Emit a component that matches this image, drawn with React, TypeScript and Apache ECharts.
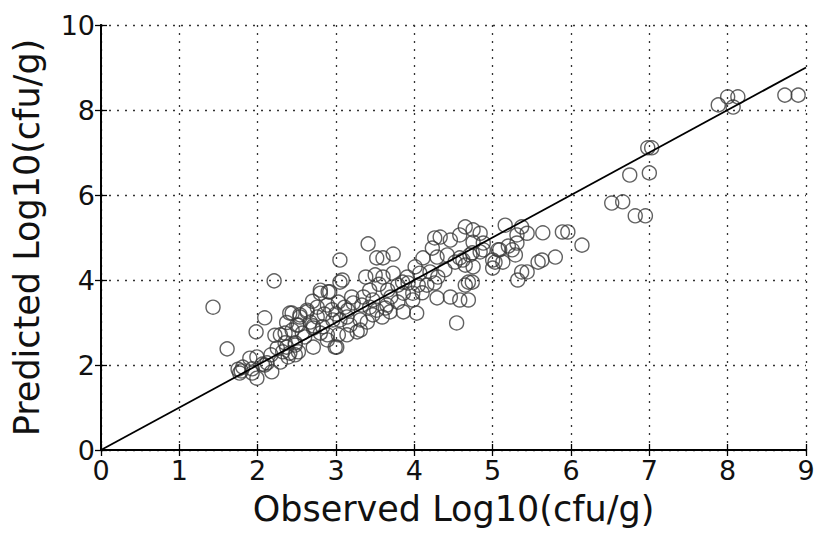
import React, { useEffect, useRef } from "react";
import * as echarts from "echarts";

const xTicks = [0, 1, 2, 3, 4, 5, 6, 7, 8, 9];
const yTicks = [0, 2, 4, 6, 8, 10];
const xTitle = "Observed Log10(cfu/g)";
const yTitle = "Predicted Log10(cfu/g)";
const identityLine: [number, number][] = [[0, 0], [9, 9]];

const lowPoints: [number, number][] = [
  [1.43, 3.36], [1.61, 2.38], [1.75, 1.9], [1.77, 1.81], [1.79, 1.86], [1.81, 1.95], [1.9, 2.16],
  [1.93, 1.91], [1.93, 1.81], [1.98, 2.78], [1.99, 2.19], [1.99, 1.69], [2.06, 2.02], [2.09, 3.11],
  [2.09, 2.0], [2.12, 2.05], [2.17, 2.24], [2.18, 1.84], [2.21, 3.98], [2.22, 2.7], [2.25, 2.4],
  [2.29, 2.07], [2.29, 2.71], [2.32, 2.31], [2.35, 2.75], [2.35, 2.52], [2.37, 3.0], [2.37, 2.42],
  [2.39, 2.19], [2.41, 2.28], [2.41, 3.22], [2.44, 3.22], [2.44, 2.82], [2.48, 2.47], [2.48, 2.24],
  [2.48, 2.52], [2.5, 2.94], [2.52, 2.94], [2.52, 2.31], [2.54, 3.18], [2.54, 3.13], [2.57, 2.75],
];

const midPoints: [number, number][] = [
  [2.6, 2.66], [2.63, 3.25], [2.63, 3.29], [2.67, 3.01], [2.71, 2.87], [2.71, 2.42], [2.71, 2.92],
  [2.76, 3.36], [2.76, 3.13], [2.8, 3.69], [2.8, 2.75], [2.8, 3.76], [2.83, 2.9], [2.89, 3.41],
  [2.89, 2.59], [2.89, 2.71], [2.9, 3.72], [2.92, 3.72], [2.96, 3.06], [2.99, 2.42], [3.01, 2.42],
  [3.03, 3.48], [3.03, 2.71], [3.05, 4.47], [3.05, 3.95], [3.05, 3.06], [3.08, 4.0], [3.11, 3.36],
  [3.14, 3.13], [3.14, 2.71], [3.15, 3.29], [3.18, 2.94], [3.22, 3.46], [3.27, 2.78], [3.31, 3.06],
  [3.31, 2.82], [3.33, 3.41], [3.35, 3.6], [3.4, 3.01], [3.41, 4.85], [3.43, 3.76], [3.43, 3.36],
  [3.47, 3.18], [3.47, 3.53], [3.5, 4.12], [3.52, 4.52], [3.52, 3.29], [3.38, 4.07], [2.95, 3.3],
  [3.2, 3.6], [2.7, 3.5], [2.85, 3.2], [3.0, 3.2],
];

const upperPoints: [number, number][] = [
  [3.59, 3.13], [3.6, 4.52], [3.6, 4.07], [3.63, 3.34], [3.65, 3.41], [3.66, 3.76], [3.69, 3.25],
  [3.73, 4.61], [3.73, 4.16], [3.79, 3.88], [3.79, 3.48], [3.86, 3.69], [3.86, 3.25], [3.91, 4.07],
  [3.92, 3.93], [3.98, 3.69], [3.98, 3.53], [4.01, 4.31], [4.03, 3.22], [4.05, 3.88], [4.07, 4.16],
  [4.11, 4.52], [4.16, 3.88], [4.2, 4.19], [4.23, 4.75], [4.26, 4.99], [4.26, 3.93], [4.29, 4.54],
  [4.29, 3.58], [4.3, 4.07], [4.33, 5.01], [4.39, 4.24], [4.42, 4.59], [4.46, 4.94], [4.46, 3.6],
  [3.55, 3.9], [3.7, 3.6], [3.85, 3.95], [4.1, 3.7],
];

const highPoints: [number, number][] = [
  [4.52, 4.42], [4.54, 2.99], [4.58, 5.06], [4.58, 4.52], [4.58, 3.53], [4.62, 4.47], [4.65, 5.25],
  [4.65, 4.35], [4.65, 3.88], [4.69, 3.95], [4.69, 3.53], [4.71, 4.59], [4.74, 3.95], [4.75, 4.89],
  [4.75, 5.18], [4.74, 4.64], [4.75, 4.31], [4.84, 5.1], [4.84, 4.66], [4.88, 4.87], [4.88, 4.71],
  [5.0, 4.47], [5.0, 4.28], [5.03, 4.42], [5.07, 4.71], [5.09, 4.71], [5.13, 4.42], [5.16, 5.29],
  [5.25, 4.71], [5.29, 4.59], [5.31, 5.06], [5.31, 4.87], [5.32, 4.0], [5.37, 5.25], [5.37, 4.19],
  [5.44, 5.1], [5.44, 4.19], [5.2, 4.8],
];

const topPoints: [number, number][] = [
  [5.58, 4.42], [5.63, 4.47], [5.64, 5.11], [5.8, 4.54], [5.89, 5.13], [5.96, 5.13], [6.14, 4.82],
  [6.52, 5.81], [6.66, 5.84], [6.75, 6.47], [6.82, 5.51], [6.95, 5.51], [6.98, 7.11], [7.03, 7.11],
  [7.0, 6.52], [7.88, 8.12], [8.0, 8.31], [8.07, 8.07], [8.13, 8.31], [8.73, 8.35], [8.9, 8.35],
];

const allPoints = [...lowPoints, ...midPoints, ...upperPoints, ...highPoints, ...topPoints];

const FONT = "DejaVu Sans";

export default function App() {
  const ref = useRef<HTMLDivElement>(null);
  useEffect(() => {
    if (!ref.current) return;
    const chart = echarts.init(ref.current, undefined, { renderer: "svg" });
    const gridLine = { show: true, lineStyle: { color: "#333", width: 1.3, type: [2, 6] as any } };
    const frame = { show: true, lineStyle: { color: "#000", width: 1.8 } };
    const inTick = { show: true, inside: true, length: 6, lineStyle: { color: "#000", width: 1.3 } };
    chart.setOption({
      animation: false,
      backgroundColor: "#fff",
      grid: { left: 101, right: 13, top: 25, bottom: 90, containLabel: false },
      xAxis: [
        {
          type: "value", min: 0, max: 9, interval: 1, position: "bottom",
          axisLine: frame, axisTick: inTick, splitLine: gridLine,
          axisLabel: { color: "#111", fontFamily: FONT, fontSize: 27, margin: 7,
            formatter: (v: number) => (xTicks.includes(v) ? String(v) : "") },
          name: xTitle, nameLocation: "middle", nameGap: 41,
          nameTextStyle: { color: "#111", fontFamily: FONT, fontSize: 35 },
        },
        {
          type: "value", min: 0, max: 9, interval: 1, position: "top",
          axisLine: frame, axisTick: inTick, splitLine: { show: false }, axisLabel: { show: false },
        },
      ],
      yAxis: [
        {
          type: "value", min: 0, max: 10, interval: 2, position: "left",
          axisLine: frame, axisTick: inTick, splitLine: gridLine,
          axisLabel: { color: "#111", fontFamily: FONT, fontSize: 27, margin: 6,
            formatter: (v: number) => (yTicks.includes(v) ? String(v) : "") },
          name: yTitle, nameLocation: "middle", nameGap: 57,
          nameTextStyle: { color: "#111", fontFamily: FONT, fontSize: 35 },
        },
        {
          type: "value", min: 0, max: 10, interval: 2, position: "right",
          axisLine: frame, axisTick: inTick, splitLine: { show: false }, axisLabel: { show: false },
        },
      ],
      series: [
        {
          type: "scatter", data: allPoints, symbol: "circle", symbolSize: 14,
          itemStyle: { color: "rgba(0,0,0,0)", borderColor: "#3a3a3a", borderWidth: 1.4 },
          z: 2,
        },
        {
          type: "line", data: identityLine, symbol: "none",
          lineStyle: { color: "#000", width: 1.8 }, z: 3,
        },
      ],
    });
    return () => chart.dispose();
  }, []);
  return <div ref={ref} style={{ width: 819, height: 540, position: "absolute", left: 0, top: 0 }} />;
}
